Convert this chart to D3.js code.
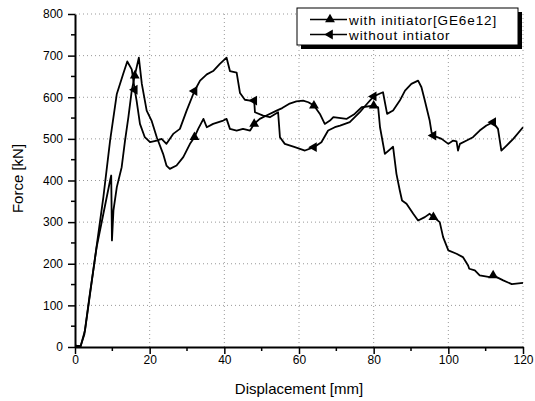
<!DOCTYPE html>
<html>
<head>
<meta charset="utf-8">
<script src="https://cdn.jsdelivr.net/npm/d3@7"></script>
<style>
  body { margin: 0; background: #fff; }
  text { font-family: "Liberation Sans", Arial, sans-serif; fill: #000; }
</style>
</head>
<body>
<div id="viz"></div>
<script>
// displacement [mm], force [kN]
const withInitiator = [
  [0, 3], [1.5, 2], [2.5, 30], [4, 129], [5.8, 240], [7.6, 320], [9.4, 400], [9.7, 412],
  [9.9, 256], [10.3, 328], [11.2, 384], [12.5, 432], [13.4, 496], [14.3, 552], [15.2, 616],
  [16, 652], [17.1, 695], [17.9, 632], [19.2, 568], [20.5, 544], [21.9, 504], [23.6, 464],
  [24.5, 436], [25.4, 428], [27.2, 436], [29, 456], [30.8, 488], [32, 504], [33, 524],
  [34.4, 548], [35.3, 528], [37, 536], [39.7, 544], [40.6, 548], [41.5, 524], [43.3, 520],
  [45, 524], [46.9, 520], [48, 536], [49.5, 548], [51.3, 556], [54, 568], [55.5, 574],
  [57.3, 584], [59.3, 590], [61.1, 592], [62.5, 588], [64, 580], [65.6, 560], [66.9, 536],
  [68.3, 544], [69.2, 552], [72.7, 548], [74.9, 560], [76.8, 576], [80, 580], [81.2, 576],
  [81.7, 528], [83, 464], [85.2, 481], [86.1, 416], [87, 376], [87.6, 352], [88.8, 344],
  [90.6, 320], [91.9, 304], [93.7, 312], [95, 320], [96, 312], [97.7, 300], [98.6, 264],
  [100, 232], [102.2, 224], [103.9, 216], [105.3, 196], [105.6, 188], [107.1, 184],
  [108.4, 172], [111.1, 168], [112, 172], [114.7, 160], [117, 151], [120, 154]
];

const withoutInitiator = [
  [0, 3], [1.5, 2], [2.7, 41], [4.9, 184], [7.6, 360], [9.4, 496], [11.2, 608], [12.9, 656],
  [14, 686], [15.2, 667], [16, 618], [16.5, 592], [17.4, 536], [18.7, 504], [20.1, 492],
  [21.9, 496], [23.2, 500], [24.5, 488], [26.3, 512], [28.1, 524], [29.9, 568], [32, 615],
  [33.5, 640], [35.3, 655], [37, 663], [38.8, 680], [40.6, 695], [41.5, 663], [43.3, 659],
  [44.2, 610], [45.5, 594], [46.9, 592], [48, 592], [48.2, 564], [50.4, 556], [52.2, 552],
  [54.4, 564], [54.9, 504], [56.2, 488], [58.9, 480], [61.6, 472], [64, 480], [66, 492],
  [67.8, 520], [69.6, 528], [71, 532], [73.6, 540], [76.3, 564], [78, 582], [80, 602],
  [81.7, 609], [82.5, 612], [83.6, 560], [85.2, 568], [87, 592], [88.4, 616], [90.1, 632],
  [91.9, 640], [92.8, 624], [93.7, 592], [95, 544], [95.5, 516], [96, 508], [98.2, 500],
  [100, 488], [101.3, 496], [102.2, 494], [102.6, 472], [103.1, 488], [104.9, 496],
  [106.6, 504], [108.4, 520], [110.2, 532], [112, 540], [113.3, 524], [114.2, 472],
  [115.6, 484], [117.4, 500], [120, 528]
];

const markerXs = [16, 32, 48, 64, 80, 96, 112];
const xTicks = [0, 20, 40, 60, 80, 100, 120];
const yTicks = [0, 100, 200, 300, 400, 500, 600, 700, 800];
const legendLabels = ['with initiator[GE6e12]', 'without intiator'];

const M = { top: 14, right: 12, bottom: 54, left: 75 };
const W = 535 - M.left - M.right;
const H = 401 - M.top - M.bottom;

const root = d3.select('#viz').append('svg')
  .attr('width', 535).attr('height', 401);
const svg = root.append('g')
  .attr('transform', `translate(${M.left},${M.top})`);

const x = d3.scaleLinear().domain([0, 120]).range([0, W]);
const y = d3.scaleLinear().domain([0, 800]).range([H, 0]);

// dotted grid
svg.append('g').selectAll('line').data(xTicks.slice(1)).join('line')
  .attr('x1', d => x(d)).attr('x2', d => x(d))
  .attr('y1', 0).attr('y2', H)
  .attr('stroke', '#999').attr('stroke-dasharray', '1,3');
svg.append('g').selectAll('line').data(yTicks.slice(1)).join('line')
  .attr('x1', 0).attr('x2', W)
  .attr('y1', d => y(d)).attr('y2', d => y(d))
  .attr('stroke', '#999').attr('stroke-dasharray', '1,3');

// minor ticks
const minorX = d3.range(10, 120, 20);
const minorY = d3.range(50, 800, 100);
svg.append('g').selectAll('line').data(minorX).join('line')
  .attr('x1', d => x(d)).attr('x2', d => x(d))
  .attr('y1', H).attr('y2', H + 4)
  .attr('stroke', '#000').attr('stroke-width', 1.5);
svg.append('g').selectAll('line').data(minorY).join('line')
  .attr('x1', 0).attr('x2', -4)
  .attr('y1', d => y(d)).attr('y2', d => y(d))
  .attr('stroke', '#000').attr('stroke-width', 1.5);

// axes
const xAxis = svg.append('g')
  .attr('transform', `translate(0,${H})`)
  .call(d3.axisBottom(x).tickValues(xTicks).tickSize(7).tickSizeOuter(0).tickPadding(1));
const yAxis = svg.append('g')
  .call(d3.axisLeft(y).tickValues(yTicks).tickSize(7).tickSizeOuter(0).tickPadding(5));
[xAxis, yAxis].forEach(g => {
  g.select('.domain').attr('stroke-width', 2);
  g.selectAll('.tick line').attr('stroke-width', 1.5);
  g.selectAll('.tick text')
    .attr('font-size', '12px')
    .attr('font-family', '"Liberation Sans", Arial, sans-serif');
});

svg.append('text')
  .attr('x', W / 2).attr('y', H + 47)
  .attr('text-anchor', 'middle')
  .attr('font-size', '15px')
  .text('Displacement [mm]');
svg.append('text')
  .attr('transform', 'rotate(-90)')
  .attr('x', -H / 2 + 2).attr('y', -52)
  .attr('text-anchor', 'middle')
  .attr('font-size', '15px')
  .text('Force [kN]');

// curves
const lineGen = d3.line().x(d => x(d[0])).y(d => y(d[1]));
const series = [
  { data: withInitiator, rot: 0 },
  { data: withoutInitiator, rot: -90 }
];
const tri = d3.symbol().type(d3.symbolTriangle).size(42);

series.forEach(s => {
  svg.append('path')
    .datum(s.data)
    .attr('fill', 'none')
    .attr('stroke', '#000')
    .attr('stroke-width', 1.8)
    .attr('stroke-linejoin', 'round')
    .attr('d', lineGen);

  svg.selectAll(null)
    .data(s.data.filter(d => markerXs.includes(d[0])))
    .join('path')
    .attr('d', tri)
    .attr('transform', d => `translate(${x(d[0])},${y(d[1])}) rotate(${s.rot})`)
    .attr('fill', '#000');
});

// legend
const lg = root.append('g').attr('transform', 'translate(297,8)');
lg.append('rect')
  .attr('x', 4).attr('y', 4).attr('width', 221).attr('height', 37)
  .attr('fill', '#000');
lg.append('rect')
  .attr('x', 0).attr('y', 0).attr('width', 221).attr('height', 37)
  .attr('fill', '#fff').attr('stroke', '#000').attr('stroke-width', 1);

legendLabels.forEach((label, i) => {
  const row = lg.append('g').attr('transform', `translate(0,${11.5 + i * 15})`);
  row.append('line')
    .attr('x1', 13).attr('x2', 50)
    .attr('stroke', '#000').attr('stroke-width', 1.5);
  row.append('path')
    .attr('d', tri)
    .attr('transform', `translate(33,0) rotate(${series[i].rot})`)
    .attr('fill', '#000');
  row.append('text')
    .attr('x', 52).attr('y', 5)
    .attr('font-size', '13.5px')
    .attr('letter-spacing', '0.9px')
    .text(label);
});
</script>
</body>
</html>
